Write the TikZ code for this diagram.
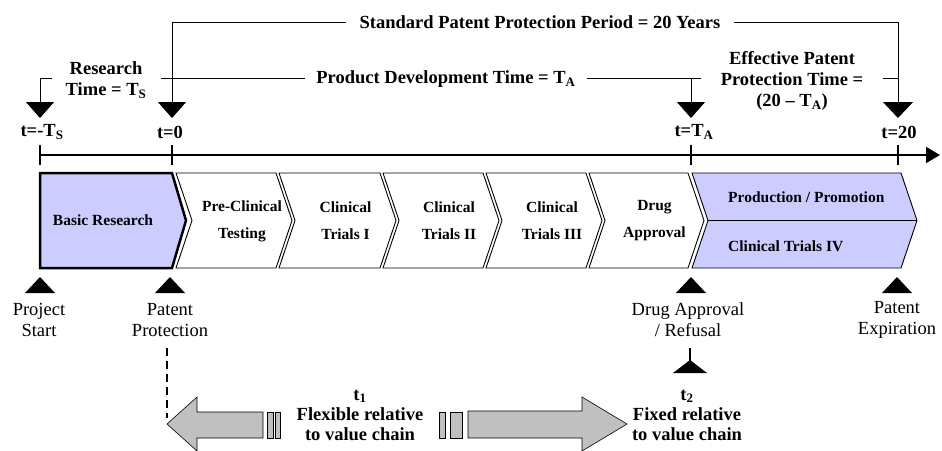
\documentclass[tikz,border=0pt]{standalone}
\usepackage{fontspec}
\setmainfont{Liberation Serif}
\usetikzlibrary{arrows.meta}
\definecolor{lavender}{HTML}{CCCCFF}
\definecolor{arrowgray}{HTML}{C0C0C0}
% stage chevron: top-left x, top-right x
\newcommand\chevshape[2]{(#1,173) -- (#2,173) -- (#2+16,220.5) -- (#2,268) -- (#1,268) -- (#1+16,220.5) -- cycle}
\begin{document}
\begin{tikzpicture}[x=1pt,y=-1pt,
  lbl/.style={font=\fontsize{18.5}{21}\selectfont\bfseries, align=center, inner ysep=0pt},
  evt/.style={font=\fontsize{18.5}{21}\selectfont, align=center, inner sep=0pt},
  stg/.style={font=\fontsize{15.5}{27}\selectfont\bfseries, align=center, inner sep=0pt},
  note/.style={font=\fontsize{18.5}{20}\selectfont\bfseries, align=center, inner sep=0pt},
  chev/.style={draw, line width=0.9pt, fill=white, line join=miter},
  bracket/.style={line width=1pt},
  drop/.style={bracket, -{Triangle[width=28pt,length=16pt]}},
  dropwide/.style={bracket, -{Triangle[width=30pt,length=16pt]}},
  tick/.style={line width=1.8pt},
  grayarrow/.style={draw, line width=0.6pt, fill=arrowgray, line join=miter},
]
\useasboundingbox (0,0) rectangle (942,450);

% ---- reference points -------------------------------------------------
\coordinate (lvl) at (0,78);
\coordinate (dS) at (40,118);
\coordinate (d0) at (172,118);
\coordinate (dA) at (691,118);
\coordinate (d20) at (898,118);
\coordinate (axL) at (40,155);
\coordinate (axR) at (940,155);

% ---- period labels ----------------------------------------------------
\node[lbl, inner xsep=13pt] (tStd) at (540,22) {Standard Patent Protection Period = 20 Years};
\node[lbl, inner xsep=14pt] (tRes) at (106,80) {Research\\Time = T\textsubscript{S}};
\node[lbl, inner xsep=11pt] (tDev) at (446,79) {Product Development Time = T\textsubscript{A}};
\node[lbl, inner xsep=20pt] (tEff) at (792,81) {Effective Patent\\Protection Time =\\(20 -- T\textsubscript{A})};

% ---- brackets with drop arrows ----------------------------------------
\draw[drop] (tStd.west) -- (d0 |- tStd) -- (d0);
\draw[dropwide] (tStd.east) -- (d20 |- tStd) -- (d20);
\draw[drop] (tRes.west |- lvl) -- (dS |- lvl) -- (dS);
\draw[bracket] (tRes.east |- lvl) -- (tDev.west |- lvl);
\draw[bracket] (tDev.east |- lvl) -- (tEff.west |- lvl);
\draw[drop] (dA |- lvl) -- (dA);
\draw[bracket] (tEff.east |- lvl) -- (d20 |- lvl);

% ---- time points ------------------------------------------------------
\node[lbl, inner sep=0pt] (tmS) at (42,132) {t=-T\textsubscript{S}};
\node[lbl, inner sep=0pt] (tm0) at (170,132) {t=0};
\node[lbl, inner sep=0pt] (tmA) at (694,132) {t=T\textsubscript{A}};
\node[lbl, inner sep=0pt] (tm20) at (899,132) {t=20};

% ---- time axis --------------------------------------------------------
\draw[tick, -{Triangle[width=16pt,length=14pt]}] (axL) -- (axR);
\foreach \x in {40,172,691,898}
  \draw[tick] (\x,145) -- (\x,165);

% ---- value chain ------------------------------------------------------
\draw[line width=2.5pt, fill=lavender, line join=miter]
  (40,173) -- (172,173) -- (186,220.5) -- (172,268) -- (40,268) -- cycle;
\draw[chev] \chevshape{176}{276};
\draw[chev] \chevshape{279}{380};
\draw[chev] \chevshape{383}{483};
\draw[chev] \chevshape{486}{586};
\draw[chev] \chevshape{589}{688};
\draw[chev, fill=lavender] \chevshape{692}{901};
\draw[line width=0.9pt] (708,220.5) -- (917,220.5);

\node[stg] (sBasic) at (103,220) {Basic Research};
\node[stg] (sPre)   at (242,221) {Pre-Clinical\\Testing};
\node[stg] (sCT1)   at (345.5,221) {Clinical\\Trials I};
\node[stg] (sCT2)   at (449,221) {Clinical\\Trials II};
\node[stg] (sCT3)   at (552,221) {Clinical\\Trials III};
\node[stg] (sDrug)  at (654.5,221) {Drug\\Approval};
\node[stg, anchor=west] (sProd) at (728,197) {Production / Promotion};
\node[stg, anchor=west] (sCT4)  at (728,246) {Clinical Trials IV};

% ---- events -----------------------------------------------------------
\foreach \x in {40,170,691,897}
  \fill (\x-15,293) -- (\x+15,293) -- (\x,277) -- cycle;
\node[evt] (eProj) at (39,320) {Project\\Start};
\node[evt] (ePat)  at (170,320) {Patent\\Protection};
\node[evt] (eDrug) at (688,320) {Drug Approval\\/ Refusal};
\node[evt] (eExp)  at (897,320) {Patent\\Expiration};

% ---- flexible / fixed timing -----------------------------------------
\draw[line width=2pt, dash pattern=on 8pt off 5pt] (167,348) -- (167,418);
\draw[line width=1.2pt] (690,348) -- (690,362);
\fill (673,373) -- (707,373) -- (690,360) -- cycle;

\draw[grayarrow] (167,424) -- (197,397) -- (197,412) -- (263,412) -- (263,438) -- (197,438) -- (197,451) -- cycle;
\draw[grayarrow] (267,412) rectangle (273,438);
\draw[grayarrow] (275,412) rectangle (280,438);

\draw[grayarrow] (627,424) -- (582,397) -- (582,411) -- (468,411) -- (468,438) -- (582,438) -- (582,451) -- cycle;
\draw[grayarrow] (439,412) rectangle (445,438);
\draw[grayarrow] (450,412) rectangle (462,438);

\node[note] (nFlex) at (360,415) {t\textsubscript{1}\\Flexible relative\\to value chain};
\node[note] (nFix)  at (687,415) {t\textsubscript{2}\\Fixed relative\\to value chain};
\end{tikzpicture}
\end{document}
